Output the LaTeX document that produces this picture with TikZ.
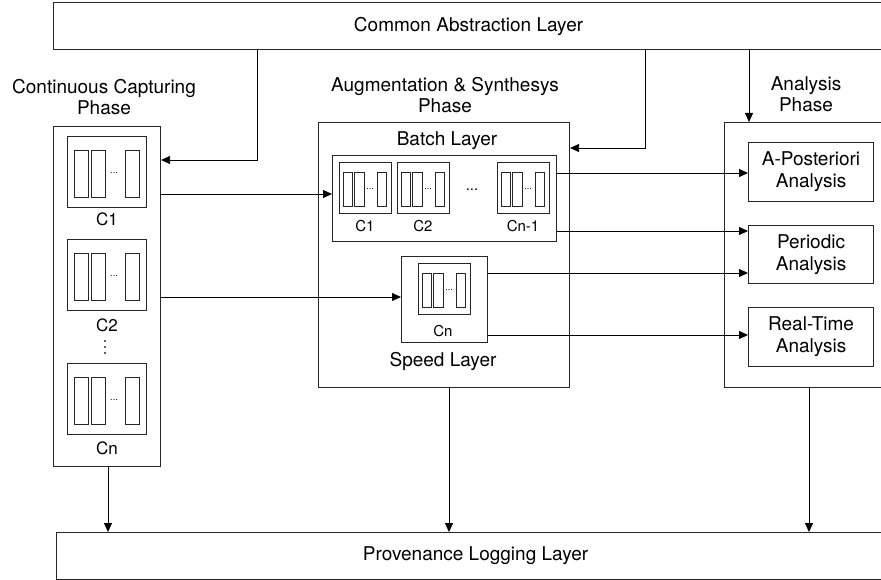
\documentclass[tikz,border=0pt]{standalone}
\usepackage{fontspec}
\setmainfont{TeX Gyre Heros}
\usetikzlibrary{arrows.meta,
                    calc}
\tikzset{
caixa/.style = {draw=black!85, line width=1.1pt, inner sep=0pt, anchor=north west, align=center,
                font=\fontsize{19}{22}\selectfont}
         }
\tikzset{
fino/.style = {draw=black!85, line width=0.8pt}
         }
\tikzset{
seta/.style = {line width=0.8pt, -{Triangle[length=9pt, width=8pt]}}
         }
\tikzset{
rotulo/.style = {font=\fontsize{19}{21}\selectfont, align=center, inner sep=0pt},
legenda/.style = {font=\fontsize{17}{17}\selectfont, inner sep=0pt},
legendap/.style = {font=\fontsize{15}{15}\selectfont, inner sep=0pt},
pontos/.style = {font=\fontsize{9}{9}\selectfont, inner sep=0pt}
         }
% colecao de colunas
\tikzset{
pics/celula/.style = {code = {
    \draw[fino] (0,0) rectangle (79,71);
    \foreach \xc in {7,24,58}
        \draw[fino] (\xc,14) rectangle +(14,47);
    \node[pontos] (-pts) at (47,37) {...};
}}
         }

\begin{document}
\begin{tikzpicture}[x=1pt,y=-1pt]
    \useasboundingbox (0,0) rectangle (881,580);
    \clip (0,0) rectangle (881,580);

    % CAMADAS
    \node[caixa, minimum width=830pt, minimum height=47pt] (abstracao) at (53,2) {Common Abstraction Layer};
    \node[caixa, minimum width=838pt, minimum height=47pt] (proveniencia) at (56,532) {Provenance Logging Layer};

    % FASE DE CAPTURA
    \node[rotulo] (fase1) at (104,97) {Continuous Capturing\\Phase};
    \node[caixa, minimum width=107pt, minimum height=340pt] (captura) at (53,126) {};
    \pic (k1) at (67,136) {celula};
    \pic (k2) at (67,239) {celula};
    \pic (kn) at (67,363) {celula};
    \node[legenda] (lk1) at (107,219) {C1};
    \node[legenda] (lk2) at (107,325) {C2};
    \node[legenda] (lkn) at (107,448) {Cn};
    \foreach \yp in {341,347,353}
        \fill[black!85] (105,\yp) circle (1.1);

    % FASE DE SINTESE
    \node[rotulo] (fase2) at (445,95) {Augmentation \& Synthesys\\Phase};
    \node[caixa, minimum width=251pt, minimum height=265pt] (sintese) at (318,122) {};
    \node[rotulo] (batchtxt) at (447,141) {Batch Layer};
    \node[caixa, minimum width=224pt, minimum height=86pt] (batch) at (332,155) {};
    \pic[xscale=0.66, yscale=0.72] (b1) at (339,162) {celula};
    \pic[xscale=0.66, yscale=0.72] (b2) at (397,162) {celula};
    \pic[xscale=0.66, yscale=0.72] (bn) at (497,162) {celula};
    \node[legendap] (lb1) at (365,226) {C1};
    \node[legendap] (lb2) at (423,226) {C2};
    \node[legendap] (lbn) at (523,226) {Cn-1};
    \node[legendap] (bpts) at (472,190) {...};
    \node[caixa, minimum width=86pt, minimum height=86pt] (speed) at (401,256) {};
    \pic[xscale=0.66, yscale=0.72] (sn) at (418,263) {celula};
    \node[legendap] (lsn) at (443,331) {Cn};
    \node[rotulo] (speedtxt) at (443,361) {Speed Layer};

    % FASE DE ANALISE
    \node[rotulo] (fase3) at (806,94) {Analysis\\Phase};
    \node[caixa, minimum width=200pt, minimum height=265pt] (analise) at (724,122) {};
    \node[caixa, minimum width=125pt, minimum height=59pt] (aposteriori) at (748,142) {A-Posteriori\\Analysis};
    \node[caixa, minimum width=125pt, minimum height=58pt] (periodica) at (748,225) {Periodic\\Analysis};
    \node[caixa, minimum width=125pt, minimum height=59pt] (temporeal) at (748,307) {Real-Time\\Analysis};

    % SETAS
    \draw[seta] (abstracao.south -| 257,0) |- (captura.east |- 0,160);
    \draw[seta] (abstracao.south -| 645,0) |- (sintese.east |- 0,148);
    \draw[seta] (abstracao.south -| 749,0) -- (analise.north -| 749,0);
    \draw[seta] (captura.east |- 0,194) -- (batch.west |- 0,194);
    \draw[seta] (captura.east |- 0,297) -- (speed.west |- 0,297);
    \draw[seta] (batch.east |- 0,173) -- (aposteriori.west |- 0,173);
    \draw[seta] (batch.east |- 0,231) -- (periodica.west |- 0,231);
    \draw[seta] (speed.east |- 0,273) -- (periodica.west |- 0,273);
    \draw[seta] (speed.east |- 0,335) -- (temporeal.west |- 0,335);
    \draw[seta] (captura.south -| 108,0) -- (proveniencia.north -| 108,0);
    \draw[seta] (sintese.south -| 449,0) -- (proveniencia.north -| 449,0);
    \draw[seta] (analise.south -| 809,0) -- (proveniencia.north -| 809,0);
\end{tikzpicture}
\end{document}
